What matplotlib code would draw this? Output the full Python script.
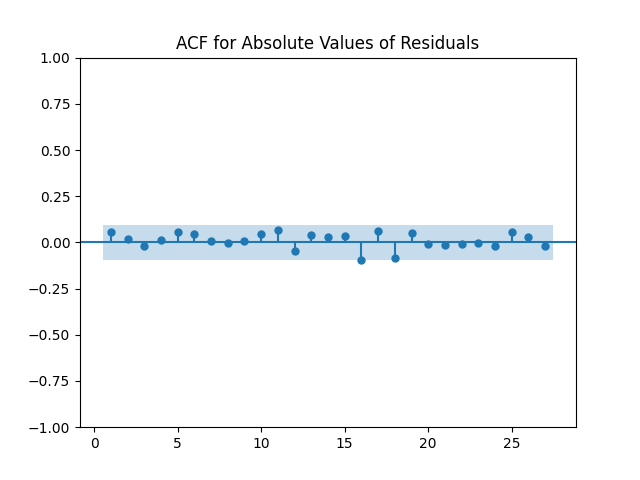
import numpy as np
import matplotlib
matplotlib.use("Agg")
import matplotlib.pyplot as plt

# ACF of |residuals|, lags 1..27 (lag 0 not shown)
lags = np.arange(1, 28)
acf_vals = np.array([0.055, 0.017, -0.019, 0.012, 0.055, 0.044, 0.006, -0.004, 0.006,
                     0.044, 0.066, -0.048, 0.039, 0.028, 0.035, -0.097, 0.061, -0.086,
                     0.050, -0.008, -0.015, -0.008, -0.004, -0.021, 0.055, 0.030, -0.021])
conf = 0.093  # half width of the confidence band

fig, ax = plt.subplots(figsize=(6.4, 4.8), dpi=100)

ax.vlines(lags, [0], acf_vals)
ax.axhline()
ax.plot(lags, acf_vals, marker='o', markersize=5, linestyle='None')

band_x = np.concatenate(([lags[0] - 0.5], lags[1:-1], [lags[-1] + 0.5]))
ax.fill_between(band_x, -conf, conf, alpha=0.25, linewidth=0)

ax.set_ylim(-1, 1)
ax.set_title("ACF for Absolute Values of Residuals")

fig.savefig("out.png")
